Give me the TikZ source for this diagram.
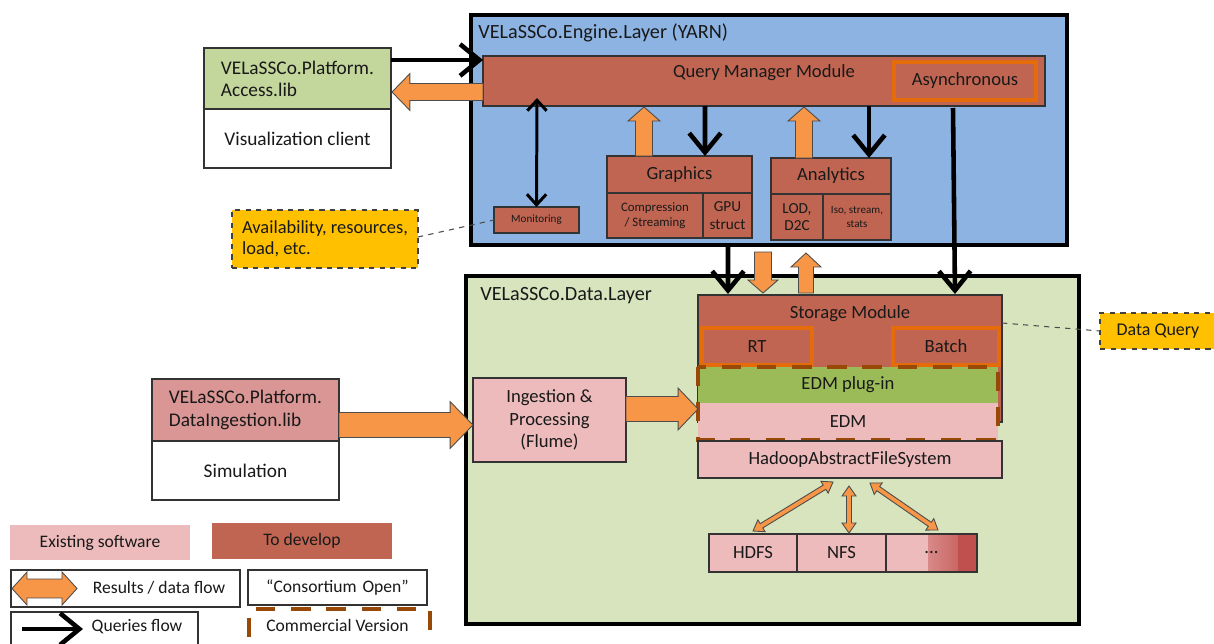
\documentclass[tikz,border=0pt]{standalone}
\usepackage{fontspec}
\setmainfont{Carlito}
\usetikzlibrary{positioning}
\usetikzlibrary{calc}
\usetikzlibrary{arrows.meta}

\definecolor{devred}{RGB}{192,101,82}
\definecolor{exipink}{RGB}{237,187,188}
\definecolor{engblue}{RGB}{141,179,226}
\definecolor{datagreen}{RGB}{215,228,189}
\definecolor{libgreen}{RGB}{195,214,155}
\definecolor{simpink}{RGB}{217,150,148}
\definecolor{plugreen}{RGB}{155,187,89}
\definecolor{resorange}{RGB}{247,150,70}
\definecolor{asyorange}{RGB}{228,108,10}
\definecolor{combrown}{RGB}{152,72,7}
\definecolor{noteyellow}{RGB}{255,192,0}
\definecolor{dotsred}{RGB}{192,80,77}

\def\px{0.5669pt}

% box from its two corners (in px)
\newcommand\pxbox[5][]{%
  \path let \p1=(#3), \p2=(#4) in
    node[#1, minimum width={abs(\x2-\x1)}, minimum height={abs(\y2-\y1)}]
      (#2) at ($(\p1)!0.5!(\p2)$) {#5};}

% fat arrow: from, to, half body, half head, head length (px)
\newcommand\fatarrow[6][]{%
  \coordinate (fa) at (#2);
  \coordinate (fb) at (#3);
  \coordinate (fc) at ($(fb)!#6*\px!(fa)$);
  \draw[fat,#1] ($(fa)!#4*\px!90:(fb)$) -- ($(fc)!#4*\px!90:(fb)$)
    -- ($(fc)!#5*\px!90:(fb)$) -- (fb) -- ($(fc)!#5*\px!-90:(fb)$)
    -- ($(fc)!#4*\px!-90:(fb)$) -- ($(fa)!#4*\px!-90:(fb)$) -- cycle;}

% same with two heads
\newcommand\dfatarrow[6][]{%
  \coordinate (fa) at (#2);
  \coordinate (fb) at (#3);
  \coordinate (fc) at ($(fa)!#6*\px!(fb)$);
  \coordinate (fd) at ($(fb)!#6*\px!(fa)$);
  \draw[fat,#1] (fa) -- ($(fc)!#5*\px!90:(fb)$) -- ($(fc)!#4*\px!90:(fb)$)
    -- ($(fd)!#4*\px!90:(fb)$) -- ($(fd)!#5*\px!90:(fb)$) -- (fb)
    -- ($(fd)!#5*\px!-90:(fb)$) -- ($(fd)!#4*\px!-90:(fb)$)
    -- ($(fc)!#4*\px!-90:(fb)$) -- ($(fc)!#5*\px!-90:(fb)$) -- cycle;}

\tikzset{
  txt/.style={font=\fontsize{10.6}{12.8}\selectfont, text=black!90},
  blk/.style={txt, draw=black!80, line width=0.7pt, inner sep=0pt, outer sep=0pt, align=center},
  dev/.style={blk, fill=devred},
  exi/.style={blk, fill=exipink},
  layer/.style={draw=black, line width=2.8pt, inner sep=0pt, outer sep=0pt},
  titletxt/.style={font=\fontsize{11.5}{13}\selectfont, text=black!90, inner sep=0pt},
  sidetxt/.style={font=\fontsize{11}{12.6}\selectfont},
  legtxt/.style={font=\fontsize{10}{12}\selectfont, text=black!90},
  asy/.style={txt, draw=asyorange, line width=2.4pt, inner sep=0pt, outer sep=0pt},
  note/.style={txt, font=\fontsize{10.5}{12}\selectfont, draw=black!75, dashed, line width=0.6pt,
    fill=noteyellow, inner sep=0pt, outer sep=0pt, align=left},
  notel/.style={draw=black!70, dashed, line width=0.6pt},
  comm/.style={draw=combrown, line width=2.3pt, dash pattern=on 11pt off 9pt},
  fat/.style={fill=resorange, draw=black!70, line width=0.5pt, line join=miter},
  query/.style={line width=2.6pt, -{Straight Barb[length=11pt,width=18pt]}},
  monarr/.style={line width=1.7pt,
    {Straight Barb[length=6pt,width=11pt]}-{Straight Barb[length=6pt,width=11pt]}},
}

\begin{document}
\begin{tikzpicture}[x=0.02cm, y=-0.02cm]
  \useasboundingbox (0,0) rectangle (1214,643);
  \clip (0,0) rectangle (1214,643);

  % layers
  \pxbox[layer, fill=engblue]{eng}{471,15}{1067,245}{}
  \node[titletxt, anchor=west] (engt) at ($(eng.north west)+(7,18)$) {VELaSSCo.Engine.Layer (YARN)};
  \pxbox[layer, fill=datagreen]{dat}{466,276}{1079,624}{}
  \node[titletxt, anchor=west] (datt) at ($(dat.north west)+(14,20)$) {VELaSSCo.Data.Layer};

  % engine layer
  \pxbox[dev]{qmm}{483,56}{1045,106}{}
  \node[txt] (qmmt) at ($(qmm.north)+(0,17)$) {Query Manager Module};
  \pxbox[asy]{asy}{894,62}{1036,100}{Asynchronous}
  \pxbox[dev]{gra}{607,156}{752,193}{Graphics}
  \pxbox[dev, font=\fontsize{7.3}{8.6}\selectfont]{grac}{607,193}{703,238}{Compression\\/ Streaming}
  \pxbox[dev, font=\fontsize{8.7}{9.8}\selectfont]{grag}{703,193}{752,238}{GPU\\struct}
  \pxbox[dev]{ana}{771,158}{891,194}{Analytics}
  \pxbox[dev, font=\fontsize{8.7}{9.8}\selectfont]{anal}{771,194}{823,240}{LOD,\\D2C}
  \pxbox[dev, font=\fontsize{6.3}{7.5}\selectfont]{anai}{823,194}{891,240}{Iso, stream,\\stats}
  \pxbox[dev, font=\fontsize{6.3}{7.5}\selectfont]{mon}{494,207}{579,233}{Monitoring}

  % clients
  \pxbox[blk, sidetxt, fill=libgreen, align=left]{acc}{204,48}{391,109}{VELaSSCo.Platform.\\Access.lib}
  \pxbox[blk, sidetxt, fill=white]{vis}{204,109}{391,168}{Visualization client}
  \pxbox[blk, sidetxt, fill=simpink, align=left]{din}{152,379}{339,441}{VELaSSCo.Platform.\\DataIngestion.lib}
  \pxbox[blk, sidetxt, fill=white]{sim}{152,441}{339,500}{Simulation}

  % notes
  \pxbox[note]{avl}{232,210}{418,268}{Availability, resources,\\load, etc.}
  \pxbox[note, font=\fontsize{10.2}{12}\selectfont]{dq}{1100,313}{1216,349}{Data Query}
  \draw[notel] ($(avl.north east)+(0,27)$) -- (mon.west);

  % data layer
  \pxbox[dev]{stor}{698,295}{1002,422}{}
  \node[txt] (stort) at ($(stor.north)+(0,19)$) {Storage Module};
  \pxbox[asy]{rt}{702,328}{812,365}{RT}
  \pxbox[asy]{bat}{893,328}{999,365}{Batch}
  \pxbox[blk, draw=none, fill=plugreen]{plug}{698,367}{998,403}{EDM plug-in}
  \pxbox[blk, draw=none, fill=exipink]{edm}{698,403}{998,440}{EDM}
  \draw[comm] (plug.north west) rectangle (edm.south east);
  \pxbox[exi]{had}{698,441}{1002,478}{HadoopAbstractFileSystem}
  \pxbox[exi]{ing}{473,378}{626,462}{Ingestion \&\\Processing\\(Flume)}
  \pxbox[exi]{hdfs}{709,534}{797,572}{HDFS}
  \pxbox[exi]{nfs}{797,534}{886,572}{NFS}
  \pxbox[exi, path picture={
      \fill[left color=exipink, right color=dotsred]
        ($(path picture bounding box.north west)+(42,0)$) rectangle ($(path picture bounding box.south west)+(72,0)$);
      \fill[dotsred] ($(path picture bounding box.north west)+(72,0)$) rectangle (path picture bounding box.south east);
    }]{dots}{886,534}{977,572}{...}
  \draw[notel] ($(stor.north east)+(0,28)$) -- (dq.west);

  % queries flow
  \draw[query] ($(acc.north east)+(0,12)$) -- ($(qmm.north west)+(0,4)$);
  \draw[query] ($(qmm.south west)+(222,0)$) -- ($(gra.north west)+(98,0)$);
  \draw[query] ($(qmm.south west)+(386,0)$) -- ($(ana.north west)+(98,0)$);
  \draw[monarr] ($(qmm.south west)+(54,-8)$) -- (mon.north);
  \draw[query] ($(qmm.south west)+(470,2)$) -- ($(stor.north west)+(257,-1)$);
  \draw[query] ($(eng.south west)+(257,0)$) -- ($(stor.north west)+(30,-1)$);

  % results / data flow
  \fatarrow{$(qmm.north west)+(0,36)$}{$(acc.north east)+(1,44)$}{8.5}{18.5}{18}
  \fatarrow{$(gra.north west)+(37,0)$}{$(qmm.south west)+(161,1)$}{8.5}{16}{14}
  \fatarrow{$(ana.north west)+(33,0)$}{$(qmm.south west)+(321,1)$}{8.5}{16}{14}
  \fatarrow{$(eng.south west)+(292,7)$}{$(stor.north west)+(65,-2)$}{8.5}{15}{13}
  \fatarrow{$(stor.north west)+(108,-2)$}{$(eng.south west)+(335,8)$}{7.5}{15}{14}
  \fatarrow{$(din.north east)+(0,46)$}{$(ing.north west)+(0,47)$}{12.5}{23.5}{23}
  \fatarrow{$(ing.north east)+(0,31)$}{$(plug.south west)+(0,6)$}{12.5}{21}{20}
  \dfatarrow{$(had.south west)+(135,4)$}{$(hdfs.north west)+(44,-3)$}{2.5}{7}{10}
  \dfatarrow{$(had.south west)+(151,8)$}{$(nfs.north west)+(52,-1)$}{2.5}{7}{10}
  \dfatarrow{$(had.south west)+(172,5)$}{$(dots.north west)+(52,-4)$}{2.5}{7}{10}

  % legend
  \pxbox[blk, legtxt, draw=none, fill=exipink]{lexi}{10,525}{190,560}{Existing software}
  \pxbox[blk, legtxt, draw=none, fill=devred]{ldev}{212,523}{392,559}{To develop}
  \pxbox[blk, fill=white]{lres}{11,570}{240,607}{}
  \node[legtxt] (lrest) at ($(lres.west)+(148,-1)$) {Results / data flow};
  \dfatarrow{$(lres.west)+(1,0)$}{$(lres.west)+(66,0)$}{9.5}{16.5}{15}
  \pxbox[blk, legtxt, fill=white]{lcon}{248,570}{427,605}{“Consortium\,\,Open”}
  \pxbox[blk, fill=white]{lqry}{11,612}{198,660}{}
  \node[legtxt] (lqryt) at ($(lqry.north west)+(126,15)$) {Queries flow};
  \draw[query] ($(lqry.north west)+(11,17)$) -- ($(lqry.north west)+(72,17)$);
  \pxbox[comm]{lcom}{249,609}{430,660}{}
  \node[legtxt] (lcomt) at ($(lcom.north)+(-2,18)$) {Commercial Version};
\end{tikzpicture}
\end{document}
